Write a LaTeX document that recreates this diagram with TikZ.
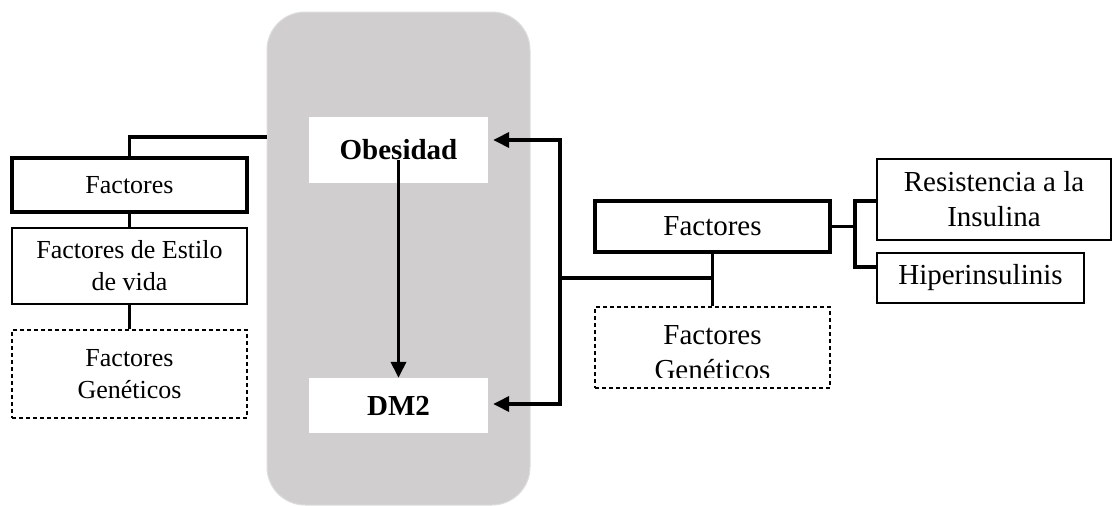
\documentclass[tikz,border=0pt]{standalone}
\usepackage{fontspec}
\setmainfont{Liberation Serif}
\usetikzlibrary{arrows.meta}
\definecolor{panelgray}{RGB}{208,206,206}
\definecolor{paneledge}{RGB}{222,222,222}
\tikzset{
  box/.style={rectangle, inner sep=0pt, align=center, text=black},
  thickbox/.style={box, draw, line width=4.5pt},
  thinbox/.style={box, draw, line width=1.4pt},
  dashbox/.style={box, draw, line width=1.1pt, dash pattern=on 4pt off 3pt},
  smalltxt/.style={font=\fontsize{26}{32}\selectfont},
  bigtxt/.style={font=\fontsize{29}{35}\selectfont},
  boldtxt/.style={font=\fontsize{29}{35}\selectfont\bfseries},
  conn/.style={line width=3.6pt},
  arr/.style={conn, -{Triangle[length=16pt,width=15pt]}},
}
\begin{document}
\begin{tikzpicture}[x=1pt, y=-1pt]
\useasboundingbox (0,0) rectangle (1112,506);

% central panel with the two conditions
\node[rectangle, fill=panelgray, draw=paneledge, line width=1pt, rounded corners=38pt,
      minimum width=263pt, minimum height=493pt, inner sep=0pt] (panel) at (398.5,258.5) {};
\node[box, fill=white, boldtxt, minimum width=179pt, minimum height=66pt] (ob) at (398.5,150) {Obesidad};
\node[box, fill=white, boldtxt, minimum width=179pt, minimum height=55pt] (dm) at (398.5,405.5) {DM2};
\draw[arr] ([yshift=-10pt]ob.center) -- (dm.north);

% left column of factors
\node[thickbox, smalltxt, minimum width=235pt, minimum height=54pt] (lf) at (129.5,185) {Factores};
\node[thinbox, smalltxt, minimum width=235pt, minimum height=76pt] (le) at (129.5,266) {Factores de Estilo\\de vida};
\node[dashbox, smalltxt, minimum width=235pt, minimum height=88pt] (lg) at (129.5,374) {Factores\\Genéticos};
\coordinate (tapL) at (267,137);
\draw[conn] (lf.north) |- (tapL);
\draw[conn] (lf.south) -- (le.north);
\draw[conn] (le.south) -- (lg.north);

% right group of factors
\node[thickbox, bigtxt, minimum width=235pt, minimum height=51pt] (rf) at (712.5,226.5) {Factores};
\node[dashbox, minimum width=235pt, minimum height=81pt] (rg) at (712.5,347.5) {};
\begin{scope}
  \clip (595,307) rectangle (830,377);
  \node[box, bigtxt] (rgt) at (712.5,353) {Factores\\Genéticos};
\end{scope}
\node[thinbox, bigtxt, minimum width=234pt, minimum height=81pt] (ri) at (994,199.5) {Resistencia a la\\Insulina};
\node[thinbox, bigtxt, minimum width=207pt, minimum height=50pt] (rh) at (980.5,278) {Hiperinsulinis};

% bracket joining the insulin factors
\coordinate (brT) at (855,201);
\coordinate (brB) at (855,267);
\draw[conn] (rf.east) -- (rf.east -| brT);
\draw[conn] (ri.west |- brT) -- (brT) -- (brB) -- (rh.west |- brB);

% bus feeding both conditions
\coordinate (busT) at (560,140);
\coordinate (busM) at (560,278);
\coordinate (busB) at (560,404);
\draw[conn] (rf.south) -- (rg.north);
\draw[conn] (busM) -- (busM -| rf.south);
\draw[conn] ([yshift=1.8pt]busT) -- ([yshift=-1.8pt]busB);
\draw[arr, shorten >=5pt] (busT) -- (ob.east |- busT);
\draw[arr, shorten >=5pt] (busB) -- (dm.east |- busB);
\end{tikzpicture}
\end{document}
